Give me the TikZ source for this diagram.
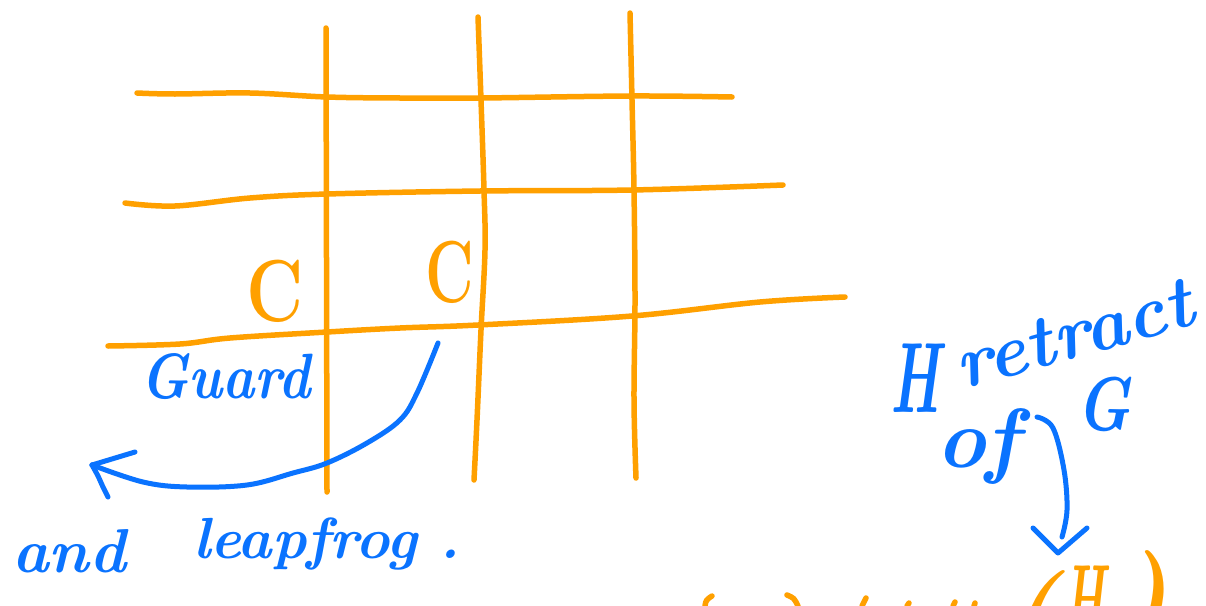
\documentclass[tikz,border=0pt]{standalone}
\usepackage{fontspec}
\definecolor{pen}{RGB}{10,115,255}
\definecolor{ink}{RGB}{255,160,0}
\tikzset{
  gridline/.style={draw=ink, line width=5.5pt, line cap=round, line join=round},
  penline/.style={draw=pen, line width=5pt, line cap=round, line join=round},
  bluetext/.style={inner sep=0pt, text=pen, anchor=base west},
  orangetext/.style={inner sep=0pt, text=ink, anchor=base west},
}
\newcommand{\fs}[1]{\fontsize{#1}{#1}\selectfont\itshape}
\begin{document}
\begin{tikzpicture}[x=1pt,y=-1pt]
\useasboundingbox (0,0) rectangle (1206,605);
\clip (0,0) rectangle (1206,605);
\fill[white] (0,0) rectangle (1206,605);

% grid
\draw[gridline] plot[smooth, tension=0.6] coordinates {(137,93) (175,94) (250,93) (327,97) (400,98) (480,98) (632,96) (732,97)};
\draw[gridline] plot[smooth, tension=0.6] coordinates {(125,203) (175,206) (250,198) (327,194) (480,191) (632,190) (783,185)};
\draw[gridline] plot[smooth, tension=0.6] coordinates {(108,346) (180,344) (230,338) (327,332) (400,328) (478,325) (632,316) (760,302) (845,297)};
\draw[gridline] (326,28) -- (327,492);
\draw[gridline] plot[smooth, tension=0.6] coordinates {(478,17) (481,100) (484,190) (485,250) (481,330) (477,420) (474,480)};
\draw[gridline] plot[smooth, tension=0.6] coordinates {(630,13) (632,100) (634,190) (635,300) (634,400) (636,478)};

% C labels
\node[orangetext, font=\bfseries\fontsize{88}{88}\selectfont] (c1) at (246,321) {\scalebox{0.8}[1]{C}};
\node[orangetext, font=\bfseries\fontsize{88}{88}\selectfont] (c2) at (425,302) {\scalebox{0.68}[1]{C}};

% guard arrow
\node[bluetext, font=\bfseries\fs{64}] (guard) at (140,398) {\scalebox{0.85}[1]{Guard}};
\coordinate (gs) at (438,343);
\coordinate (gt) at (92,465);
\draw[penline] plot[smooth, tension=0.6] coordinates {(gs) (417,393) (400,420) (367,443) (327,463) (293,473) (247,485) (187,487) (143,482) (gt)};
\draw[penline] (gt) -- (135,452);
\draw[penline] plot[smooth, tension=0.6] coordinates {(gt) (98,476) (103,487) (108,497)};

\node[bluetext, font=\bfseries\fs{62}] (and) at (12,572) {and};
\node[bluetext, font=\bfseries\fs{58}] (leap) at (193,558) {leapfrog\hspace{22pt}.};

% retract
\node[bluetext, font=\bfseries\fs{100}] (H) at (890,412) {\scalebox{0.55}[1]{H}};
\node[bluetext, font=\bfseries\fs{74}, rotate=15.6] (retract) at (962,390) {retract};
\node[bluetext, font=\bfseries\fs{84}] (of) at (936,467) {of};
\node[bluetext, font=\bfseries\fs{76}] (G) at (1076,430) {\scalebox{0.8}[1]{G}};
\coordinate (rs) at (1037,417);
\coordinate (rt) at (1058,553);
\draw[penline] plot[smooth, tension=0.6] coordinates {(rs) (1053,428) (1064,470) (1067,510) (1062,537)};
\draw[penline] (1033,528) -- (rt) -- (1087,528);

% bottom, cut off
\node[inner sep=0pt, text=ink, anchor=north west, font=\bfseries\fs{100}] (lp) at (1008,570) {(};
\node[inner sep=0pt, text=ink, anchor=north west, font=\bfseries\fs{100}] (HH) at (1064,566) {\scalebox{0.45}[1]{H}};
\node[inner sep=0pt, text=ink, anchor=north west, font=\bfseries\fs{120}] (rp) at (1112,550) {)};
\draw[gridline] (705,606) .. controls (706,600) .. (712,596);
\draw[gridline] (787,595) .. controls (794,598) .. (798,606);
\draw[gridline] (862,606) -- (866,598);
\draw[gridline] (907,606) -- (909,603);
\draw[gridline] (953,606) -- (955,602);
\draw[gridline] (974,606) -- (975,603);
\end{tikzpicture}
\end{document}
